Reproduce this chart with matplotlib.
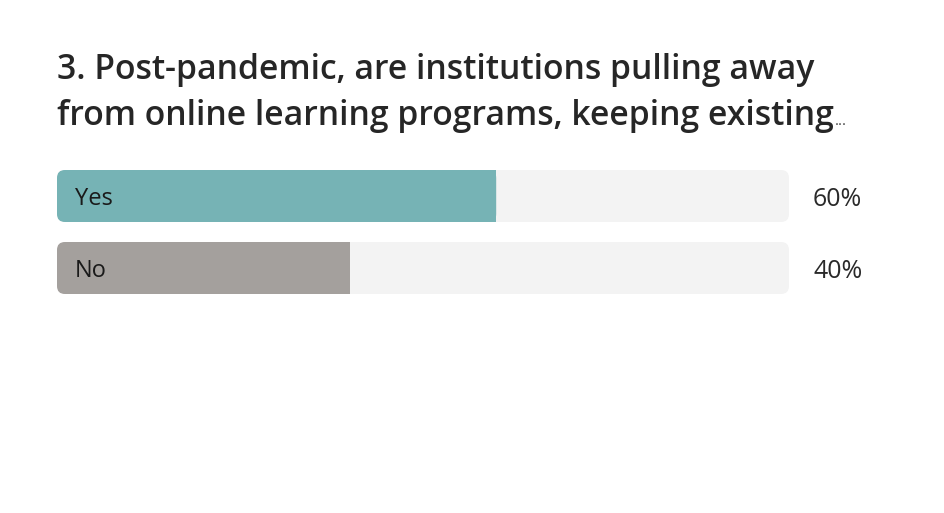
import matplotlib
matplotlib.use("Agg")
import matplotlib.pyplot as plt
from matplotlib.patches import FancyBboxPatch, Rectangle

plt.rcParams['font.family'] = ['Open Sans', 'DejaVu Sans']

# data
title_lines = ["3. Post-pandemic, are institutions pulling away",
               "from online learning programs, keeping existing"]
options = ["Yes", "No"]
percents = [60, 40]
bar_colors = ["#76b3b5", "#a4a09d"]

W, H = 944, 513
fig = plt.figure(figsize=(W / 100, H / 100), dpi=100)
fig.patch.set_facecolor("white")

# title
fig.text(57 / W, 1 - 79 / H, title_lines[0], fontsize=24.3, fontweight="semibold",
         color="#262626", va="baseline", ha="left")
t2 = fig.text(57 / W, 1 - 125 / H, title_lines[1], fontsize=24.3, fontweight="semibold",
              color="#262626", va="baseline", ha="left")
fig.canvas.draw()
ext = t2.get_window_extent()
fig.text((ext.x1 + 1) / W, 1 - 125 / H, "...", fontsize=11, color="#444444",
         va="baseline", ha="left")

# bar area in pixels
x0, x1 = 57, 789
top, bottom = 170, 294
ax = fig.add_axes([x0 / W, 1 - bottom / H, (x1 - x0) / W, (bottom - top) / H])
bar_h = 52 / 72
ax.set_xlim(0, 100)
ax.set_ylim(len(options) - 1 + bar_h / 2, -bar_h / 2)
ax.axis("off")

px_x = (x1 - x0) / 100.0
px_y = 72.0
r = 8 / px_x
aspect = (8 / px_y) / r

for i, (lab, p, c) in enumerate(zip(options, percents, bar_colors)):
    y = i - bar_h / 2
    track = FancyBboxPatch((0, y), 100, bar_h, boxstyle=f"round,pad=0,rounding_size={r}",
                           mutation_aspect=aspect, fc="#f3f3f3", ec="none")
    ax.add_patch(track)
    fill = FancyBboxPatch((0, y), p, bar_h, boxstyle=f"round,pad=0,rounding_size={r}",
                          mutation_aspect=aspect, fc=c, ec="none")
    ax.add_patch(fill)
    ax.add_patch(Rectangle((p - 2 * r, y), 2 * r, bar_h, fc=c, ec="none"))
    ax.text(18 / px_x, i, lab, fontsize=17, color="#1a1a1a", va="center_baseline", ha="left")
    ax.text(100 + 24 / px_x, i, f"{p}%", fontsize=18, color="#2a2a2a",
            va="center_baseline", ha="left", clip_on=False)

fig.savefig("out.png", dpi=100)
